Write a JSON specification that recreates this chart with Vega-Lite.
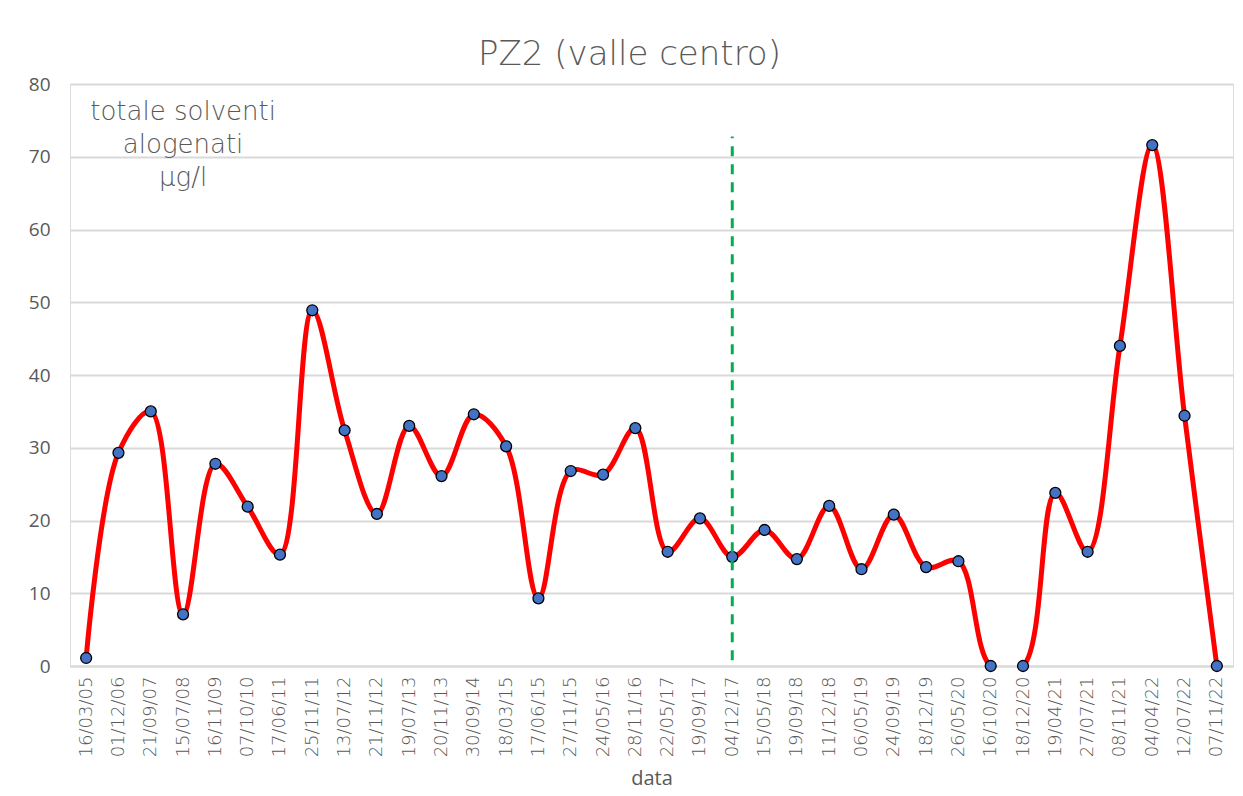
{
  "$schema": "https://vega.github.io/schema/vega-lite/v6.json",
  "width": 1163,
  "height": 582,
  "autosize": {"type": "none"},
  "padding": {"left": 70, "top": 84, "right": 10, "bottom": 130},
  "background": "white",
  "title": {
    "text": "PZ2 (valle centro)",
    "font": "DejaVu Sans",
    "fontSize": 34,
    "fontWeight": 300,
    "color": "#595959",
    "offset": 3,
    "dx": -22,
    "anchor": "middle"
  },
  "datasets": {
    "pts": [
      {"date": "16/03/05", "value": 1.1},
      {"date": "01/12/06", "value": 29.3},
      {"date": "21/09/07", "value": 35.0},
      {"date": "15/07/08", "value": 7.1},
      {"date": "16/11/09", "value": 27.8},
      {"date": "07/10/10", "value": 21.9},
      {"date": "17/06/11", "value": 15.3},
      {"date": "25/11/11", "value": 48.9},
      {"date": "13/07/12", "value": 32.4},
      {"date": "21/11/12", "value": 20.9},
      {"date": "19/07/13", "value": 33.0},
      {"date": "20/11/13", "value": 26.1},
      {"date": "30/09/14", "value": 34.6},
      {"date": "18/03/15", "value": 30.2},
      {"date": "17/06/15", "value": 9.3},
      {"date": "27/11/15", "value": 26.8},
      {"date": "24/05/16", "value": 26.3},
      {"date": "28/11/16", "value": 32.7},
      {"date": "22/05/17", "value": 15.7},
      {"date": "19/09/17", "value": 20.3},
      {"date": "04/12/17", "value": 15.0},
      {"date": "15/05/18", "value": 18.7},
      {"date": "19/09/18", "value": 14.7},
      {"date": "11/12/18", "value": 22.0},
      {"date": "06/05/19", "value": 13.3},
      {"date": "24/09/19", "value": 20.8},
      {"date": "18/12/19", "value": 13.6},
      {"date": "26/05/20", "value": 14.4},
      {"date": "16/10/20", "value": 0},
      {"date": "18/12/20", "value": 0},
      {"date": "19/04/21", "value": 23.8},
      {"date": "27/07/21", "value": 15.7},
      {"date": "08/11/21", "value": 44.0},
      {"date": "04/04/22", "value": 71.6},
      {"date": "12/07/22", "value": 34.4},
      {"date": "07/11/22", "value": 0}
    ],
    "marker": [
      {"date": "04/12/17", "low": 0.8, "high": 72.8}
    ],
    "note": [
      {"date": "15/07/08", "value": 75.0, "label": ["totale solventi", "alogenati", "µg/l"]}
    ]
  },
  "encoding": {
    "x": {
      "field": "date",
      "type": "ordinal",
      "sort": null,
      "scale": {"type": "point", "padding": 0.5},
      "axis": {
        "title": "data",
        "titleFont": "Open Sans",
        "titleFontSize": 20,
        "titleFontWeight": 400,
        "titleColor": "#595959",
        "titlePadding": 12,
        "labelAngle": 270,
        "labelFont": "DejaVu Sans",
        "labelFontSize": 18,
        "labelFontWeight": 300,
        "labelColor": "#595959",
        "labelPadding": 10,
        "ticks": false,
        "domainColor": "#d9d9d9",
        "domainWidth": 2,
        "grid": false
      }
    }
  },
  "layer": [
    {
      "data": {"name": "pts"},
      "mark": {"type": "line", "color": "#ff0000", "strokeWidth": 5, "interpolate": "catmull-rom", "clip": true},
      "encoding": {
        "y": {
          "field": "value",
          "type": "quantitative",
          "scale": {"domain": [0, 80], "nice": false},
          "axis": {
            "title": null,
            "values": [0, 10, 20, 30, 40, 50, 60, 70, 80],
            "domain": false,
            "ticks": false,
            "labelFont": "Open Sans",
            "labelFontSize": 19,
            "labelFontWeight": 400,
            "labelColor": "#595959",
            "labelPadding": 20,
            "gridColor": "#d9d9d9",
            "gridWidth": 2
          }
        }
      }
    },
    {
      "data": {"name": "pts"},
      "mark": {"type": "point", "shape": "circle", "filled": true, "fill": "#4472c4", "stroke": "#000000", "strokeWidth": 1.3, "size": 120, "opacity": 1},
      "encoding": {
        "y": {"field": "value", "type": "quantitative"}
      }
    },
    {
      "data": {"name": "marker"},
      "mark": {"type": "rule", "color": "#00b050", "strokeWidth": 3, "strokeDash": [10, 8]},
      "encoding": {
        "y": {"field": "low", "type": "quantitative"},
        "y2": {"field": "high"}
      }
    },
    {
      "data": {"name": "note"},
      "mark": {"type": "text", "font": "DejaVu Sans", "fontWeight": 300, "fontSize": 26, "color": "#595959", "align": "center", "baseline": "alphabetic", "lineHeight": 33},
      "encoding": {
        "y": {"field": "value", "type": "quantitative"},
        "text": {"field": "label"}
      }
    }
  ]
}
